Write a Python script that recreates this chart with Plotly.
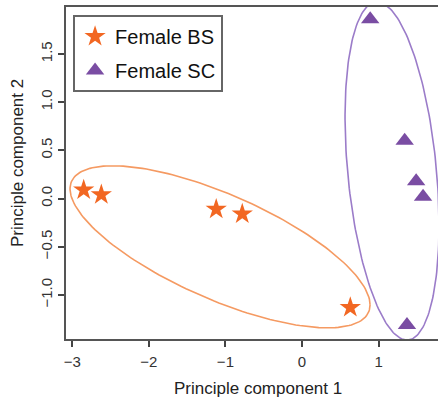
import numpy as np
import plotly.graph_objects as go

# Data
bs_x = [-2.85, -2.62, -1.12, -0.78, 0.63]
bs_y = [0.09, 0.04, -0.11, -0.16, -1.13]
sc_x = [0.89, 1.34, 1.49, 1.58, 1.37]
sc_y = [1.86, 0.60, 0.18, 0.02, -1.31]

# ellipse params: center x, center y, covariance-like shape (xx, yy, xy)
bs_ell = dict(cx=-1.07, cy=-0.50, sxx=3.835, syy=0.706, sxy=-1.178)
sc_ell = dict(cx=1.175, cy=0.286, sxx=0.3765, syy=3.0734, sxy=-0.3433)

x_ticks = [-3, -2, -1, 0, 1]
y_ticks = [-1.0, -0.5, 0.0, 0.5, 1.0, 1.5]

orange = "#F26722"
purple = "#7A4DA3"
orange_l = "#F59A62"
purple_l = "#9B7CC9"


def ellipse(p, n=200):
    t = np.linspace(0, 2 * np.pi, n)
    L = np.linalg.cholesky(np.array([[p["sxx"], p["sxy"]], [p["sxy"], p["syy"]]]))
    pts = L @ np.vstack([np.cos(t), np.sin(t)])
    return p["cx"] + pts[0], p["cy"] + pts[1]


fig = go.Figure()
ex, ey = ellipse(bs_ell)
fig.add_trace(go.Scatter(x=ex, y=ey, mode="lines", line=dict(color=orange_l, width=1.6),
                         showlegend=False, hoverinfo="skip"))
ex, ey = ellipse(sc_ell)
fig.add_trace(go.Scatter(x=ex, y=ey, mode="lines", line=dict(color=purple_l, width=1.6),
                         showlegend=False, hoverinfo="skip"))

fig.add_trace(go.Scatter(x=bs_x, y=bs_y, mode="markers", name="Female BS", legendgroup="a",
                         marker=dict(symbol="star", size=16, color=orange, line=dict(width=0))))
fig.add_trace(go.Scatter(x=sc_x, y=sc_y, mode="markers", name="Female SC", legendgroup="b",
                         marker=dict(symbol="triangle-up", size=16, color=purple, line=dict(width=0))))

axis_common = dict(showgrid=False, zeroline=False, showline=True, ticks="outside",
                   ticklen=6, tickwidth=1.5, tickcolor="#444", linecolor="#555", linewidth=1.5,
                   tickfont=dict(family="Liberation Sans, Arial", size=15, color="#333"))

fig.update_layout(
    width=438, height=401,
    margin=dict(l=66, r=0, t=7, b=62),
    plot_bgcolor="white", paper_bgcolor="white",
    xaxis=dict(range=[-3.081, 1.775], tickvals=x_ticks, mirror=True, ticklabelstandoff=2,
               **axis_common),
    yaxis=dict(range=[-1.456, 1.987], tickvals=y_ticks, tickformat=".1f", tickangle=-90,
               ticklabelstandoff=0, **axis_common),
    showlegend=True,
    legend=dict(x=0.019, y=0.976, xanchor="left", yanchor="top",
                bordercolor="#666", borderwidth=2, bgcolor="white",
                font=dict(family="Liberation Sans, Arial", size=20, color="#111"),
                tracegroupgap=5, itemsizing="trace"),
    annotations=[
        dict(text="Principle component 1", xref="paper", yref="paper", x=(258 - 66) / 372,
             y=(339 - 388) / 332, xanchor="center", yanchor="middle", showarrow=False,
             font=dict(family="Liberation Sans, Arial", size=17, color="#222")),
        dict(text="Principle component 2", xref="paper", yref="paper", x=(17 - 66) / 372,
             y=(339 - 163) / 332, xanchor="center", yanchor="middle", showarrow=False,
             textangle=-90, font=dict(family="Liberation Sans, Arial", size=17, color="#222")),
    ],
)

fig.write_html("out.html")
